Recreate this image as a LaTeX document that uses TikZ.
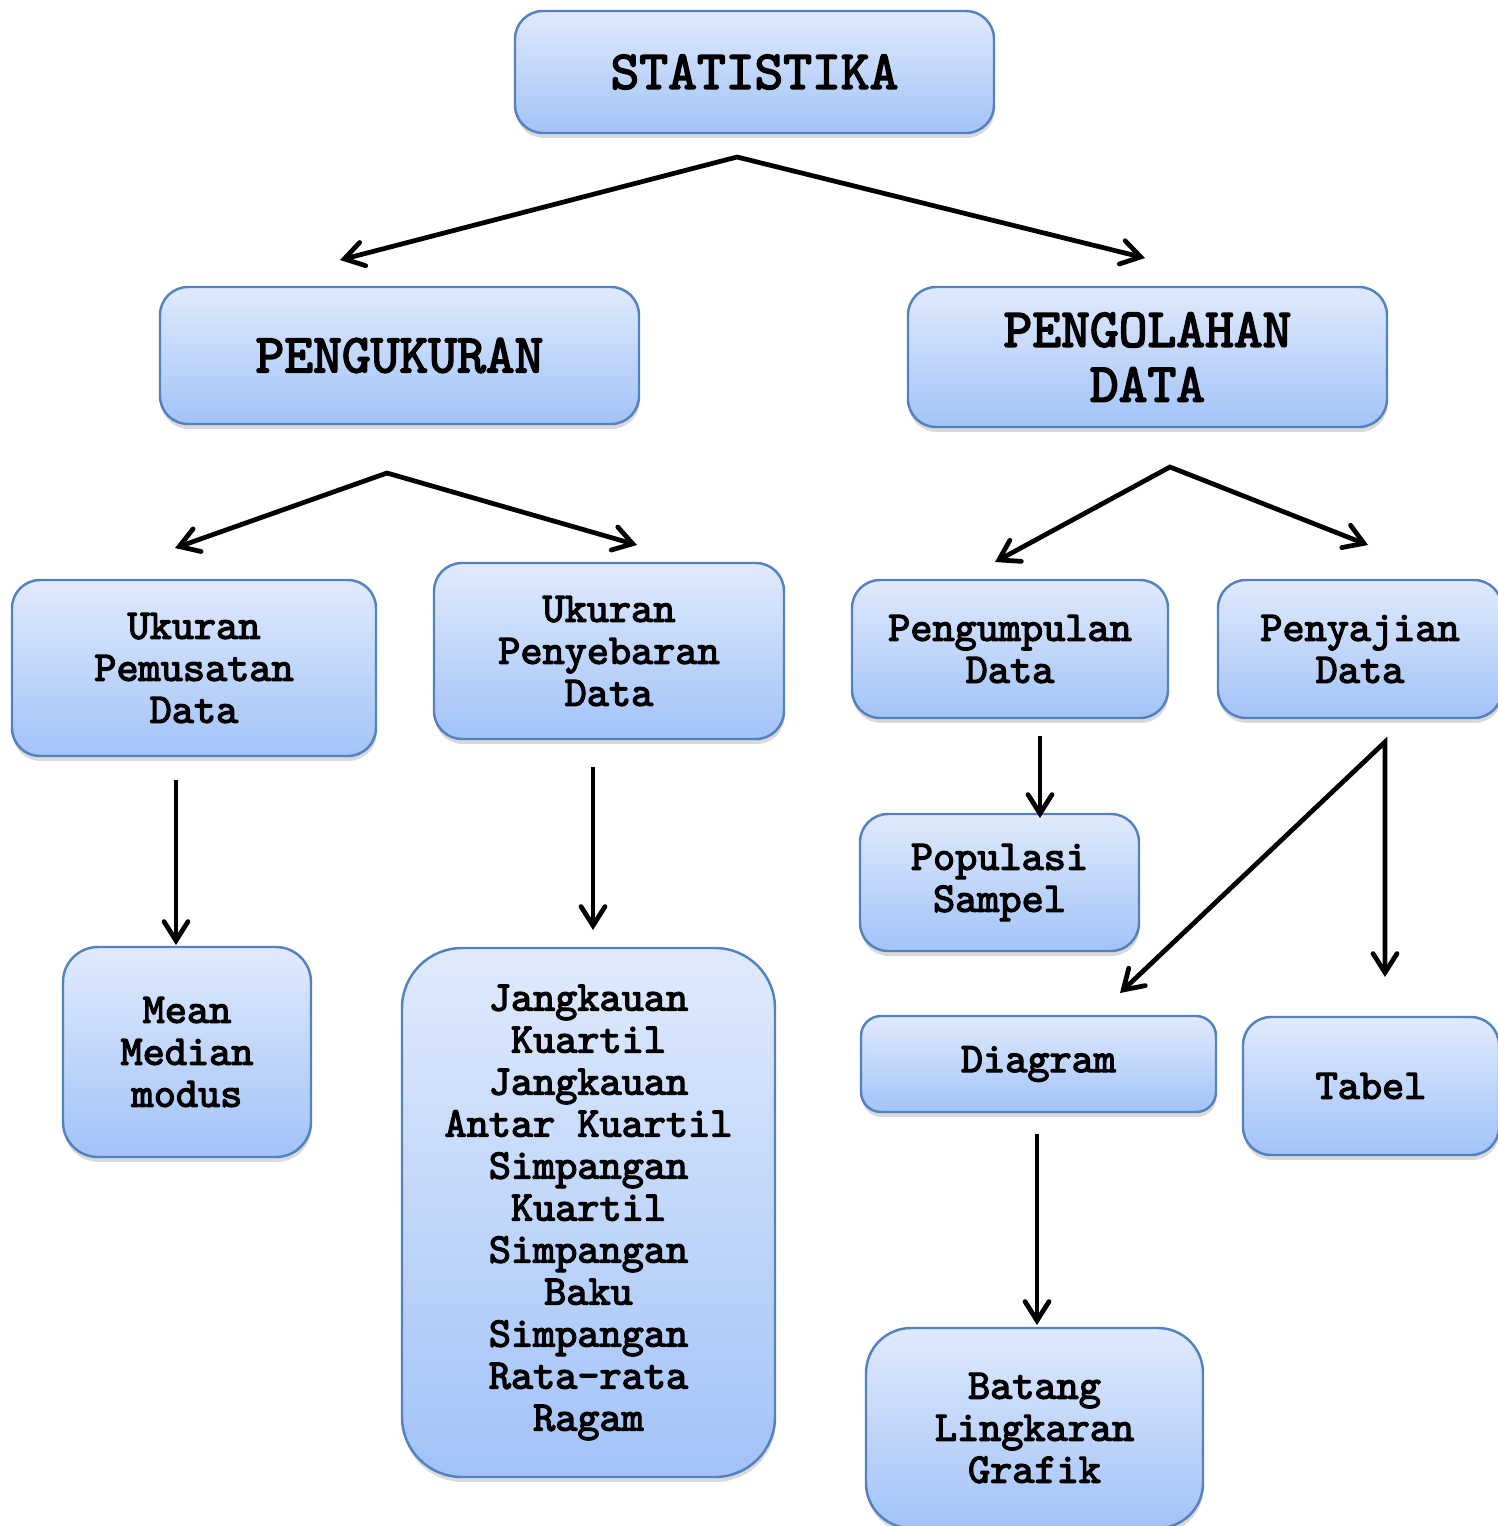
\documentclass[tikz,border=0pt]{standalone}
\usepackage{fontspec}
\setmonofont{lmmono10-regular.otf}[AutoFakeBold=3]
\usetikzlibrary{arrows.meta,shadows}
\definecolor{kotakatas}{RGB}{224,234,252}
\definecolor{kotakbawah}{RGB}{162,195,248}
\definecolor{garistepi}{RGB}{84,130,192}
\begin{document}
\begin{tikzpicture}[>={Straight Barb[length=1.9mm,width=2.4mm,line cap=round]},
    kotak/.style={draw=garistepi, line width=0.7pt, rounded corners=0.28cm,
        top color=kotakatas, bottom color=kotakbawah,
        drop shadow={shadow xshift=0.2pt, shadow yshift=-1.4pt, opacity=0.3},
        align=center, inner sep=0pt,
        font=\ttfamily\bfseries\fontsize{12}{11.95}\selectfont},
    judul/.style={kotak, font=\ttfamily\bfseries\fontsize{15.6}{15.6}\selectfont},
    panah/.style={line width=1.35pt}]
    \useasboundingbox (0,0) rectangle (14.98,-15.26);
    % Kotak utama
    \node[judul, minimum width=4.79cm, minimum height=1.22cm] (stat) at (7.545,-0.72) {STATISTIKA};
    \node[judul, minimum width=4.79cm, minimum height=1.37cm] (ukur) at (3.995,-3.555) {PENGUKURAN};
    \node[judul, minimum width=4.79cm, minimum height=1.40cm] (olah) at (11.475,-3.57) {PENGOLAHAN\\DATA};
    % Cabang pengukuran
    \node[kotak, minimum width=3.64cm, minimum height=1.76cm] (pusat) at (1.94,-6.68) {Ukuran\\Pemusatan\\Data};
    \node[kotak, minimum width=3.50cm, minimum height=1.76cm] (sebar) at (6.09,-6.51) {Ukuran\\Penyebaran\\Data};
    \node[kotak, minimum width=2.48cm, minimum height=2.10cm, rounded corners=0.35cm] (mean) at (1.87,-10.52) {Mean\\Median\\modus};
    \node[kotak, minimum width=3.73cm, minimum height=5.29cm, rounded corners=0.6cm] (ragam) at (5.885,-12.125)
        {Jangkauan\\Kuartil\\Jangkauan\\Antar Kuartil\\Simpangan\\Kuartil\\Simpangan\\Baku\\Simpangan\\Rata-rata\\Ragam};
    % Cabang pengolahan data
    \node[kotak, minimum width=3.16cm, minimum height=1.38cm] (kumpul) at (10.10,-6.49) {Pengumpulan\\Data};
    \node[kotak, minimum width=2.84cm, minimum height=1.38cm] (saji) at (13.60,-6.49) {Penyajian\\Data};
    \node[kotak, minimum width=2.79cm, minimum height=1.37cm] (popul) at (9.995,-8.825) {Populasi\\Sampel};
    \node[kotak, minimum width=3.55cm, minimum height=0.96cm, rounded corners=0.2cm] (diagram) at (10.385,-10.64) {Diagram};
    \node[kotak, minimum width=2.56cm, minimum height=1.38cm] (tabel) at (13.71,-10.86) {Tabel};
    \node[kotak, minimum width=3.37cm, minimum height=2.00cm, rounded corners=0.45cm] (batang) at (10.345,-14.28) {Batang\\Lingkaran\\Grafik};
    % Titik panah
    \coordinate (p1) at (7.37,-1.57);
    \coordinate (p1a) at (3.40,-2.60);
    \coordinate (p1b) at (11.45,-2.58);
    \coordinate (p2) at (3.87,-4.73);
    \coordinate (p2a) at (1.75,-5.48);
    \coordinate (p2b) at (6.37,-5.45);
    \coordinate (p3) at (11.70,-4.67);
    \coordinate (p3a) at (9.95,-5.62);
    \coordinate (p3b) at (13.68,-5.45);
    \coordinate (p4) at (1.76,-7.80);
    \coordinate (p4a) at (1.76,-9.45);
    \coordinate (p5) at (5.93,-7.67);
    \coordinate (p5a) at (5.93,-9.30);
    \coordinate (p6) at (10.40,-7.36);
    \coordinate (p6a) at (10.40,-8.18);
    \coordinate (p7) at (13.85,-7.42);
    \coordinate (p7a) at (11.20,-9.93);
    \coordinate (p7b) at (13.85,-9.77);
    \coordinate (p8) at (10.37,-11.34);
    \coordinate (p8a) at (10.37,-13.25);
    % Panah
    \draw[panah, <->] (p1a) -- (p1) -- (p1b);
    \draw[panah, <->] (p2a) -- (p2) -- (p2b);
    \draw[panah, <->] (p3a) -- (p3) -- (p3b);
    \draw[panah, ->] (p4) -- (p4a);
    \draw[panah, ->] (p5) -- (p5a);
    \draw[panah, ->] (p6) -- (p6a);
    \draw[panah, <->] (p7a) -- (p7) -- (p7b);
    \draw[panah, ->] (p8) -- (p8a);
\end{tikzpicture}
\end{document}
